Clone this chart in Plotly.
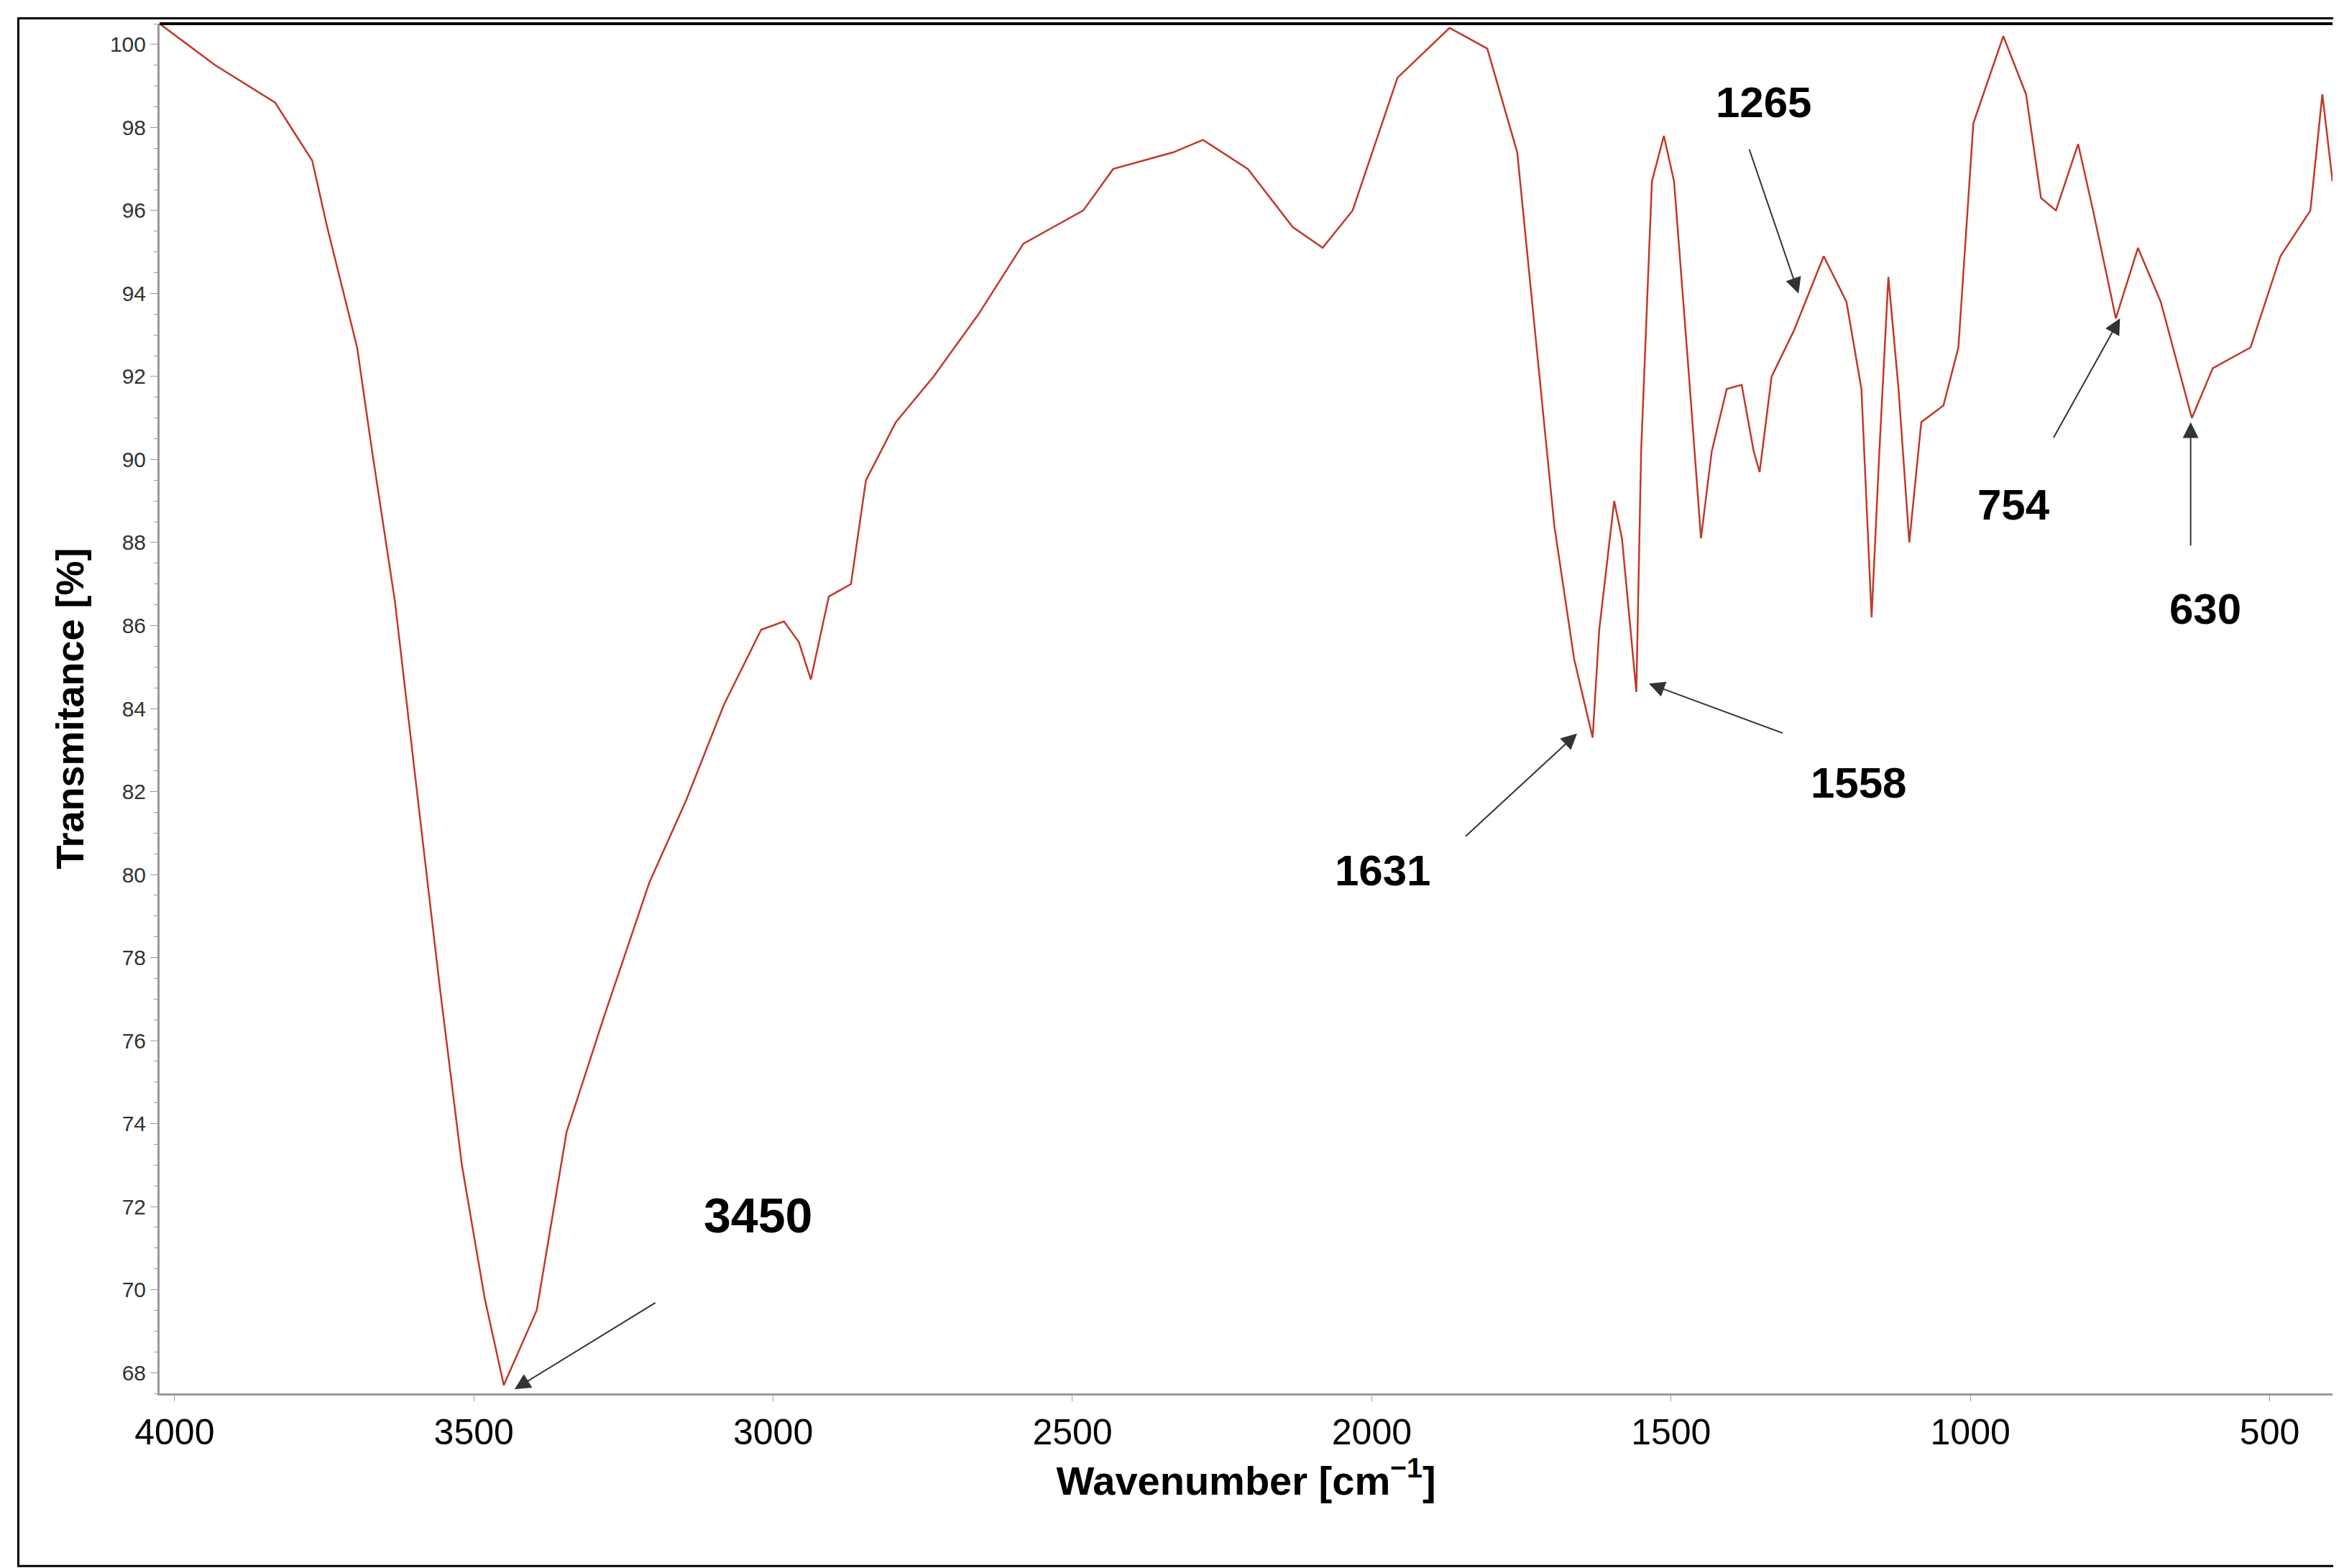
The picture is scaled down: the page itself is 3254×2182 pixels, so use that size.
import plotly.graph_objects as go

# FTIR spectrum
wavenumber = [4025, 3932, 3832, 3770, 3745, 3695, 3670, 3632, 3595, 3557, 3520, 3482, 3450,
              3395, 3345, 3282, 3207, 3145, 3082, 3020, 2982, 2957, 2937, 2907, 2870, 2845,
              2795, 2732, 2657, 2582, 2532, 2482, 2432, 2332, 2282, 2207, 2132, 2082, 2032,
              1957, 1870, 1807, 1757, 1732, 1695, 1662, 1631, 1620, 1595, 1582, 1558, 1550,
              1532, 1512, 1495, 1470, 1450, 1432, 1407, 1382, 1362, 1352, 1332, 1295, 1245,
              1207, 1182, 1165, 1152, 1137, 1120, 1102, 1082, 1045, 1020, 995, 945, 907, 882,
              857, 820, 795, 757, 720, 682, 630, 595, 532, 482, 432, 412, 395]
transmittance = [100.5, 99.5, 98.6, 97.2, 95.6, 92.7, 90.2, 86.6, 82.0, 77.3, 73.0, 69.8, 67.7,
                 69.5, 73.8, 76.6, 79.8, 81.8, 84.1, 85.9, 86.1, 85.6, 84.7, 86.7, 87.0, 89.5,
                 90.9, 92.0, 93.5, 95.2, 95.6, 96.0, 97.0, 97.4, 97.7, 97.0, 95.6, 95.1, 96.0,
                 99.2, 100.4, 99.9, 97.4, 93.8, 88.4, 85.2, 83.3, 85.9, 89.0, 88.1, 84.4, 90.2,
                 96.7, 97.8, 96.7, 92.0, 88.1, 90.2, 91.7, 91.8, 90.2, 89.7, 92.0, 93.1, 94.9,
                 93.8, 91.7, 86.2, 90.2, 94.4, 91.7, 88.0, 90.9, 91.3, 92.7, 98.1, 100.2, 98.8, 96.3,
                 96.0, 97.6, 96.0, 93.4, 95.1, 93.8, 91.0, 92.2, 92.7, 94.9, 96.0, 98.8, 96.7]

# peak labels: text position, arrow tail, arrow head
peak_labels = ["3450", "1631", "1558", "1265", "754", "630"]
label_x = [3025, 1982, 1187, 1345, 927, 607]
label_y = [71.8, 80.1, 82.2, 98.6, 88.9, 86.4]
tail_x = [3195, 1845, 1312, 1370, 862, 632]
tail_y = [69.7, 80.9, 83.4, 97.5, 90.5, 87.9]
head_x = [3432, 1657, 1537, 1287, 750, 632]
head_y = [67.6, 83.4, 84.6, 94.0, 93.4, 90.9]

fig = go.Figure()
fig.add_trace(go.Scatter(x=wavenumber, y=transmittance, mode="lines",
                         line=dict(color="#c0392b", width=2.5), showlegend=False))

bold = "Liberation Sans"
for lab, lx, ly, tx, ty, hx, hy in zip(peak_labels, label_x, label_y, tail_x, tail_y, head_x, head_y):
    fig.add_annotation(x=hx, y=hy, ax=tx, ay=ty, xref="x", yref="y", axref="x", ayref="y",
                       text="", showarrow=True, arrowhead=2, arrowsize=2.2, arrowwidth=2,
                       arrowcolor="#333333")
    fig.add_annotation(x=lx, y=ly, text=f"<b>{lab}</b>", showarrow=False,
                       font=dict(family=bold, size=68 if lab == "3450" else 60, color="black"))

fig.update_layout(
    width=3254, height=2182,
    margin=dict(l=214, r=17, t=25, b=251),
    paper_bgcolor="white", plot_bgcolor="white",
    xaxis=dict(range=[4025, 395], tickvals=[4000, 3500, 3000, 2500, 2000, 1500, 1000, 500],
               showgrid=False, zeroline=False, showline=True, linecolor="#999999", linewidth=3,
               mirror=False, ticks="outside", ticklen=8, tickcolor="#999999",
               tickfont=dict(family=bold, size=50, color="black"),
               title=dict(text="<b>Wavenumber [cm<sup>−1</sup>]</b>", standoff=20,
                          font=dict(family=bold, size=56, color="black"))),
    yaxis=dict(range=[67.5, 100.5], tickvals=list(range(68, 101, 2)),
               showgrid=False, zeroline=False, showline=True, linecolor="#999999", linewidth=3,
               ticks="outside", ticklen=10, tickcolor="#999999",
               minor=dict(ticks="outside", ticklen=5, dtick=0.5, tickcolor="#999999"),
               tickfont=dict(family=bold, size=30, color="#333333"),
               title=dict(text="<b>Transmitance [%]</b>", standoff=20,
                          font=dict(family=bold, size=54, color="black"))),
)
# black top border of the plot and outer frame
fig.add_shape(type="line", xref="paper", yref="paper", x0=0, x1=1, y0=1, y1=1,
              line=dict(color="black", width=4))
fig.add_shape(type="rect", xref="paper", yref="paper", x0=-0.065, x1=1.002, y0=-0.126, y1=1.004,
              line=dict(color="black", width=3))

fig.write_html("out.html")
